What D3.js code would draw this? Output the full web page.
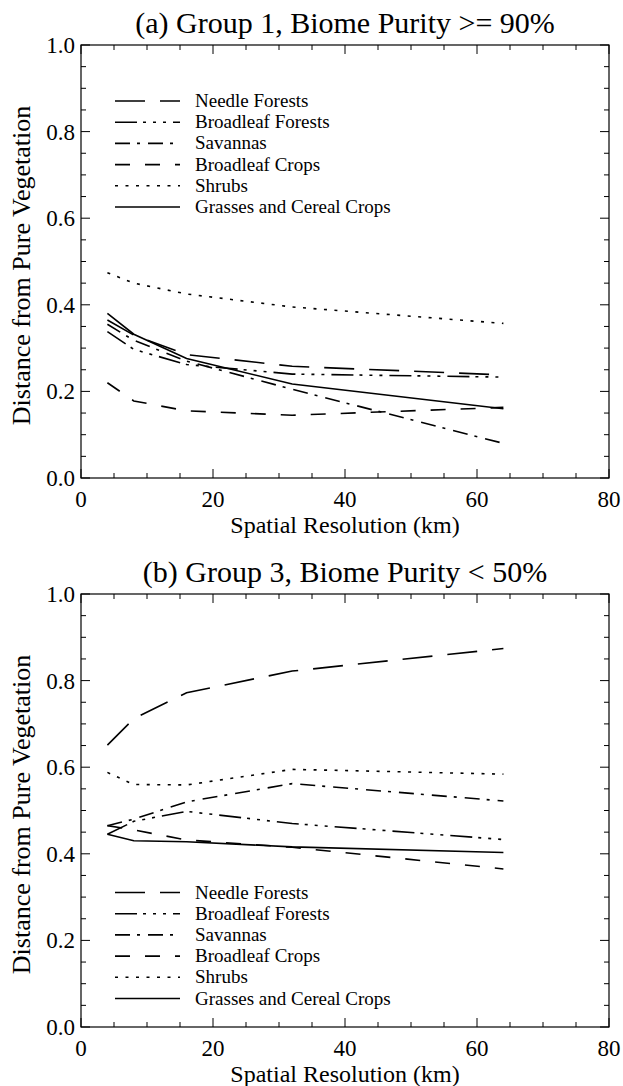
<!DOCTYPE html>
<html><head><meta charset="utf-8">
<script src="https://cdn.jsdelivr.net/npm/d3@7"></script>
<style>
body{margin:0;background:#fff}
svg{display:block}
</style>
</head><body>
<svg id="chart" width="623" height="1086"></svg>
<script>
// ---- data ----
const resolutionsKm = [4, 8, 16, 32, 64];
const seriesNames = ["Needle Forests", "Broadleaf Forests", "Savannas", "Broadleaf Crops", "Shrubs", "Grasses and Cereal Crops"];
const xMajorTicks = [0, 20, 40, 60, 80];
const yMajorTicks = [0, 0.2, 0.4, 0.6, 0.8, 1.0];
const yTickLabels = ["0.0", "0.2", "0.4", "0.6", "0.8", "1.0"];
const titleA = "(a) Group 1, Biome Purity >= 90%";
const titleB = "(b) Group 3, Biome Purity < 50%";
const xTitle = "Spatial Resolution (km)";
const yTitle = "Distance from Pure Vegetation";

// Panel (a)
const a_needle    = [0.365, 0.330, 0.285, 0.258, 0.238];
const a_broadleaf = [0.338, 0.297, 0.262, 0.240, 0.233];
const a_savannas  = [0.355, 0.318, 0.270, 0.205, 0.080];
const a_crops     = [0.220, 0.178, 0.155, 0.145, 0.163];
const a_shrubs    = [0.474, 0.450, 0.425, 0.395, 0.357];
const a_grasses   = [0.380, 0.332, 0.276, 0.217, 0.160];

// Panel (b)
const b_needle    = [0.651, 0.712, 0.772, 0.822, 0.874];
const b_broadleaf = [0.445, 0.475, 0.498, 0.470, 0.433];
const b_savannas  = [0.465, 0.480, 0.520, 0.562, 0.522];
const b_crops     = [0.465, 0.455, 0.432, 0.415, 0.365];
const b_shrubs    = [0.588, 0.560, 0.559, 0.595, 0.584];
const b_grasses   = [0.445, 0.430, 0.428, 0.416, 0.403];

// ---- styles ----
const dashStyles = ["30,15", "22,6,3,7,3,7,3,7", "15,7,3,8", "15,15", "3,7.5", null];
const SERIF = "'Liberation Serif', 'DejaVu Serif', 'Times New Roman', serif";

const svg = d3.select("#chart");
const L = 81, R = 609;

function txt(g, s, size) {
  return g.append("text").attr("font-family", SERIF).attr("font-size", size).attr("fill", "#000").text(s);
}

function drawPanel(top, bottom, title, seriesValues, legendTop) {
  const g = svg.append("g");
  const x = d3.scaleLinear().domain([0, 80]).range([L, R]);
  const y = d3.scaleLinear().domain([0, 1]).range([bottom, top]);

  // title
  txt(g, title, 30).attr("x", (L + R) / 2).attr("y", top - 12).attr("text-anchor", "middle");

  // frame
  g.append("rect").attr("x", L).attr("y", top).attr("width", R - L).attr("height", bottom - top)
    .attr("fill", "none").attr("stroke", "#000").attr("stroke-width", 1.2);

  // x ticks
  d3.range(0, 80.001, 5).forEach(v => {
    const len = xMajorTicks.includes(v) ? 9 : 5;
    g.append("line").attr("x1", x(v)).attr("x2", x(v)).attr("y1", bottom).attr("y2", bottom - len).attr("stroke", "#000");
    g.append("line").attr("x1", x(v)).attr("x2", x(v)).attr("y1", top).attr("y2", top + len).attr("stroke", "#000");
  });
  xMajorTicks.forEach(v => {
    txt(g, String(v), 23).attr("x", x(v)).attr("y", bottom + 29).attr("text-anchor", "middle");
  });
  // y ticks
  d3.range(0, 21).forEach(i => {
    const v = i * 0.05;
    const len = i % 4 === 0 ? 9 : 5;
    g.append("line").attr("x1", L).attr("x2", L + len).attr("y1", y(v)).attr("y2", y(v)).attr("stroke", "#000");
    g.append("line").attr("x1", R).attr("x2", R - len).attr("y1", y(v)).attr("y2", y(v)).attr("stroke", "#000");
  });
  yMajorTicks.forEach((v, i) => {
    txt(g, yTickLabels[i], 23).attr("x", 75).attr("y", y(v)).attr("dy", "0.35em").attr("text-anchor", "end");
  });

  // axis titles
  txt(g, xTitle, 24).attr("x", (L + R) / 2).attr("y", bottom + 55).attr("text-anchor", "middle");
  txt(g, yTitle, 26).attr("transform", `translate(30,${(top + bottom) / 2 + 4}) rotate(-90)`).attr("text-anchor", "middle");

  // series
  const line = d3.line().x((d, i) => x(resolutionsKm[i])).y(d => y(d));
  seriesValues.forEach((vals, k) => {
    g.append("path").datum(vals).attr("d", line).attr("fill", "none")
      .attr("stroke", "#000").attr("stroke-width", 1.6)
      .attr("stroke-dasharray", dashStyles[k]);
  });

  // legend
  seriesNames.forEach((name, k) => {
    const ly = legendTop + k * 21.2;
    g.append("line").attr("x1", 115).attr("x2", 180).attr("y1", ly).attr("y2", ly)
      .attr("stroke", "#000").attr("stroke-width", 1.6).attr("stroke-dasharray", dashStyles[k]);
    txt(g, name, 19).attr("x", 195).attr("y", ly + 6);
  });
}

drawPanel(45, 478, titleA, [a_needle, a_broadleaf, a_savannas, a_crops, a_shrubs, a_grasses], 101);
drawPanel(594, 1027, titleB, [b_needle, b_broadleaf, b_savannas, b_crops, b_shrubs, b_grasses], 892.5);
</script>
</body></html>
